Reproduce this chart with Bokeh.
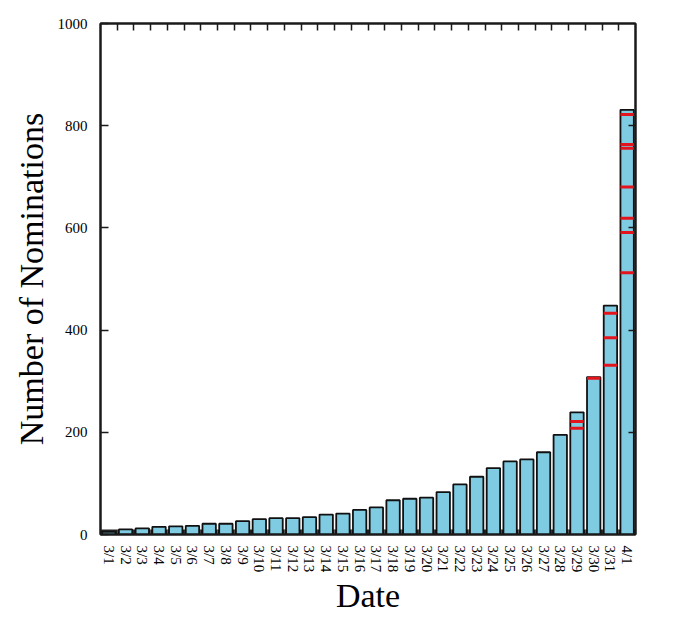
import math
from bokeh.plotting import figure
from bokeh.models import Range1d, LinearAxis, FixedTicker, ColumnDataSource
from bokeh.embed import file_html
from bokeh.resources import INLINE

dates = ["3/1", "3/2", "3/3", "3/4", "3/5", "3/6", "3/7", "3/8", "3/9", "3/10",
         "3/11", "3/12", "3/13", "3/14", "3/15", "3/16", "3/17", "3/18", "3/19",
         "3/20", "3/21", "3/22", "3/23", "3/24", "3/25", "3/26", "3/27", "3/28",
         "3/29", "3/30", "3/31", "4/1"]
nominations = [5, 10, 12, 15, 16, 17, 21, 21, 26, 30, 32, 32, 34, 39, 41, 48,
               53, 67, 70, 72, 83, 98, 113, 130, 143, 147, 161, 195, 239, 308,
               448, 831]

mark_dates = ["3/29", "3/29", "3/30", "3/31", "3/31", "3/31",
              "4/1", "4/1", "4/1", "4/1", "4/1", "4/1", "4/1"]
mark_values = [221, 208, 306, 433, 385, 331,
               822, 763, 756, 680, 619, 591, 512]

y_ticks = [0, 200, 400, 600, 800, 1000]

FONT = "Liberation Serif"
AXIS_COLOR = "#1a1a1a"

n = len(dates)
centers = [i + 0.5 for i in range(n)]
mark_x = [dates.index(d) + 0.5 for d in mark_dates]

p = figure(width=664, height=617, x_range=Range1d(0, n),
           y_range=Range1d(0, 1000), output_backend="svg",
           toolbar_location=None,
           min_border_left=100, min_border_right=29,
           min_border_top=23, min_border_bottom=80)
p.xgrid.visible = False
p.ygrid.visible = False
p.outline_line_color = AXIS_COLOR
p.outline_line_width = 2
p.background_fill_color = "white"
p.border_fill_color = "white"

# dark base band visible in the gaps between bars
base_src = ColumnDataSource(dict(x=centers, y=[0] * n))
p.rect(x="x", y="y", width=1.0, height=10, height_units="screen",
       source=base_src, fill_color="#222222", line_color=None)

src = ColumnDataSource(dict(x=centers, top=nominations))
p.vbar(x="x", top="top", width=0.8, source=src, fill_color="#7ecbe2",
       line_color="#111111", line_width=1.8)

msrc = ColumnDataSource(dict(x=mark_x, y=mark_values))
p.rect(x="x", y="y", width=0.8, height=3, height_units="screen",
       source=msrc, fill_color="#e3141c", line_color=None)

# bottom axis
xa = p.xaxis[0]
xa.ticker = FixedTicker(ticks=centers)
xa.major_label_overrides = {c: d for c, d in zip(centers, dates)}
xa.axis_label = "Date"
xa.axis_label_text_font = FONT
xa.axis_label_text_font_size = "34px"
xa.axis_label_text_font_style = "normal"
xa.axis_label_text_color = "black"
xa.axis_label_standoff = 2
xa.major_label_orientation = -math.pi / 2
xa.major_label_text_font = FONT
xa.major_label_text_font_size = "15px"
xa.major_label_text_color = "black"
xa.major_label_standoff = 5
xa.major_tick_line_color = None
xa.minor_tick_line_color = None
xa.axis_line_color = AXIS_COLOR
xa.axis_line_width = 2

# left axis
ya = p.yaxis[0]
ya.axis_label = "Number of Nominations"
ya.axis_label_text_font = FONT
ya.axis_label_text_font_size = "34px"
ya.axis_label_text_font_style = "normal"
ya.axis_label_text_color = "black"
ya.axis_label_standoff = 5
ya.ticker = FixedTicker(ticks=y_ticks)
ya.major_label_text_font = FONT
ya.major_label_text_font_size = "15px"
ya.major_label_text_color = "black"
ya.major_label_standoff = 13
ya.major_tick_in = 8
ya.major_tick_out = 0
ya.major_tick_line_color = AXIS_COLOR
ya.major_tick_line_width = 1.5
ya.minor_tick_line_color = None
ya.axis_line_color = AXIS_COLOR
ya.axis_line_width = 2

# right axis: inward ticks, no labels
ra = LinearAxis(ticker=FixedTicker(ticks=y_ticks[1:-1]))
ra.major_label_text_font_size = "0px"
ra.major_label_text_color = None
ra.major_label_standoff = 0
ra.major_tick_in = 7
ra.major_tick_out = 0
ra.major_tick_line_color = AXIS_COLOR
ra.major_tick_line_width = 1.5
ra.minor_tick_line_color = None
ra.axis_line_color = AXIS_COLOR
ra.axis_line_width = 2
p.add_layout(ra, "right")

# top axis: inward ticks at category boundaries
ta = LinearAxis(ticker=FixedTicker(ticks=list(range(1, n))))
ta.major_label_text_font_size = "0px"
ta.major_label_text_color = None
ta.major_label_standoff = 0
ta.major_tick_in = 7
ta.major_tick_out = 0
ta.major_tick_line_color = AXIS_COLOR
ta.major_tick_line_width = 1.5
ta.minor_tick_line_color = None
ta.axis_line_color = AXIS_COLOR
ta.axis_line_width = 2
p.add_layout(ta, "above")

open("out.html", "w").write(file_html(p, INLINE))
